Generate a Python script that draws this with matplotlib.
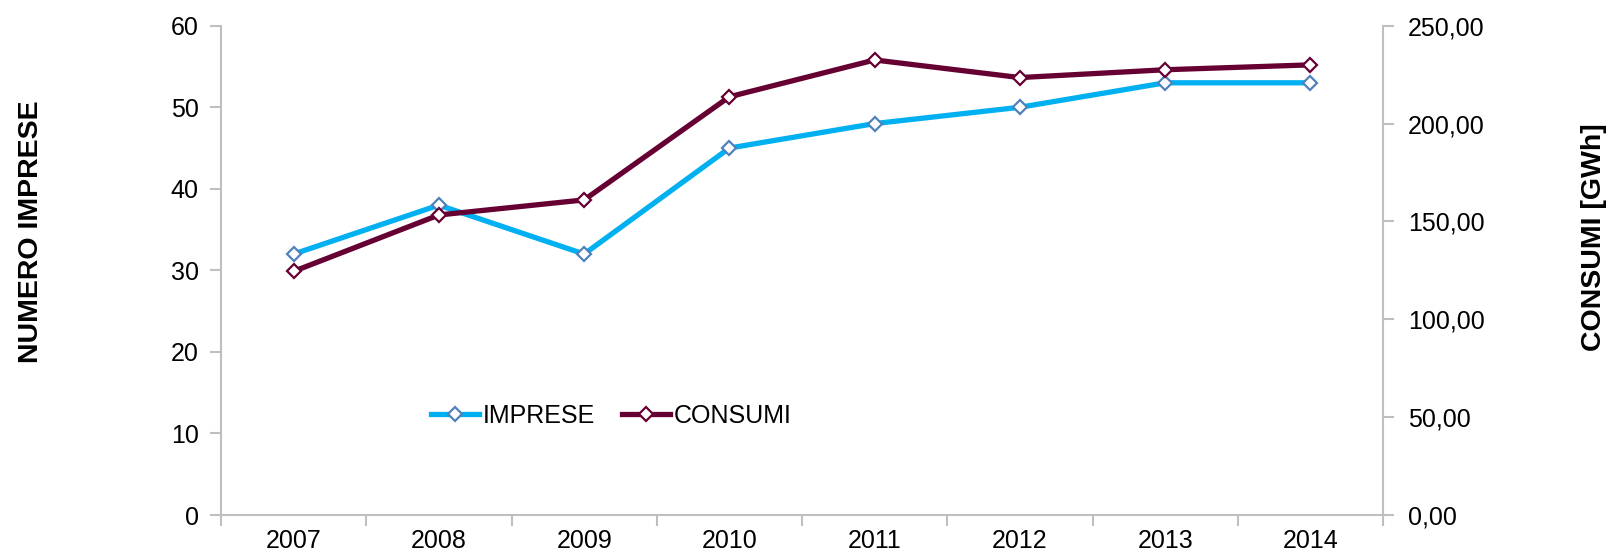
import numpy as np
import matplotlib
matplotlib.use("Agg")
import matplotlib.pyplot as plt
from matplotlib.ticker import FixedLocator, FuncFormatter

plt.rcParams['font.family'] = ['Liberation Sans', 'DejaVu Sans']

years = ['2007', '2008', '2009', '2010', '2011', '2012', '2013', '2014']
imprese = [32, 38, 32, 45, 48, 50, 53, 53]
consumi = [124.5, 153.3, 161.0, 213.7, 232.5, 223.5, 227.5, 230.0]

blue = '#00B0F0'
blue_edge = '#4F81BD'
maroon = '#660033'
grey = '#BFBFBF'

fig = plt.figure(figsize=(16.1, 5.59), dpi=100)
ax = fig.add_axes([0.1373, 0.0787, 0.859 - 0.1373, 0.954 - 0.0787])
ax2 = ax.twinx()

x = np.arange(len(years))
l1, = ax.plot(x, imprese, color=blue, lw=3.8, marker='D', ms=7,
              mfc='white', mec=blue_edge, mew=1.6, label='IMPRESE', zorder=3)
l2, = ax2.plot(x, consumi, color=maroon, lw=3.8, marker='D', ms=7,
               mfc='white', mec=maroon, mew=1.6, label='CONSUMI', zorder=3)

ax.set_xlim(-0.5, len(years) - 0.5)
ax.set_ylim(0, 60)
ax2.set_ylim(0, 250)
ax.set_yticks(np.arange(0, 61, 10))
ax2.set_yticks(np.arange(0, 251, 50))
ax2.yaxis.set_major_formatter(FuncFormatter(lambda v, p: f'{v:.2f}'.replace('.', ',')))

# category ticks between years, labels at centres
ax.xaxis.set_major_locator(FixedLocator(np.arange(-0.5, len(years), 1.0)))
ax.xaxis.set_minor_locator(FixedLocator(x))
ax.set_xticklabels([])
ax.set_xticklabels(years, minor=True)
ax.tick_params(axis='x', which='major', length=8, width=1.5, color=grey, direction='out')
ax.tick_params(axis='x', which='minor', length=0, pad=10, labelsize=18)
ax.tick_params(axis='y', length=8, width=1.5, color=grey, labelsize=18, pad=8)
ax2.tick_params(axis='y', length=8, width=1.5, color=grey, labelsize=18, pad=10)

for a in (ax, ax2):
    a.spines['top'].set_visible(False)
    for s in ('left', 'right', 'bottom'):
        a.spines[s].set_color(grey)
        a.spines[s].set_linewidth(1.5)
ax.spines['right'].set_visible(False)
ax2.spines['left'].set_visible(False)
ax2.spines['bottom'].set_visible(False)

fig.text(0.0193, 0.585, 'NUMERO IMPRESE', rotation=90, ha='center', va='center',
         fontsize=20.5, fontweight='bold')
fig.text(0.990, 0.575, 'CONSUMI [GWh]', rotation=90, ha='center', va='center',
         fontsize=20.5, fontweight='bold')

ax.legend([l1, l2], ['IMPRESE', 'CONSUMI'], loc='center', bbox_to_anchor=(0.336, 0.202),
          ncol=2, frameon=False, fontsize=18, handlelength=1.9, handletextpad=0.15,
          columnspacing=1.1)

fig.savefig('out.png', dpi=100)
